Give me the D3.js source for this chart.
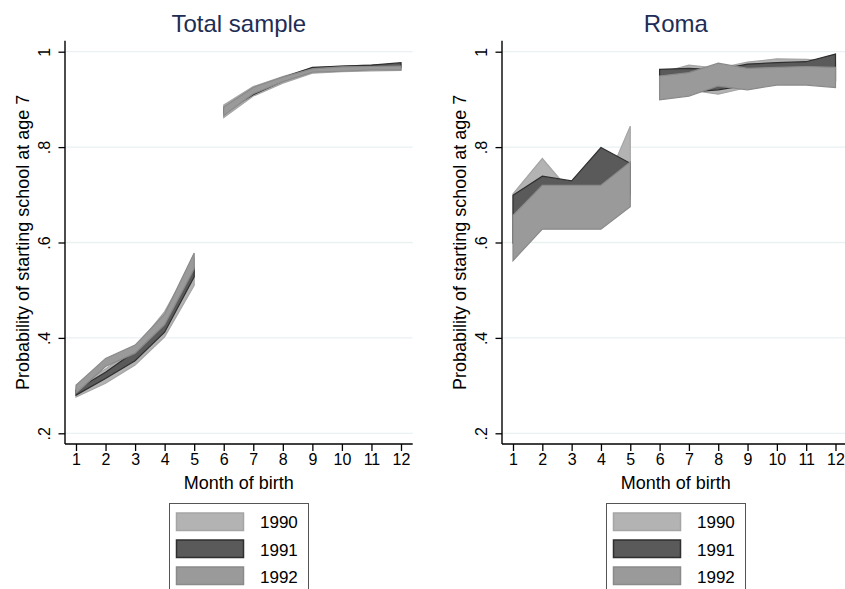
<!DOCTYPE html>
<html>
<head>
<meta charset="utf-8">
<script src="https://cdn.jsdelivr.net/npm/d3@7"></script>
<style>
  html, body { margin: 0; padding: 0; background: #fff; }
  svg { display: block; font-family: "Liberation Sans", Arial, Helvetica, sans-serif; }
</style>
</head>
<body>
<svg id="chart" width="845" height="589"></svg>
<script>
// ---------------- DATA ----------------
const months = [1, 2, 3, 4, 5, 6, 7, 8, 9, 10, 11, 12];
const yearLabels = ["1990", "1991", "1992"];
const yTickValues = [0.2, 0.4, 0.6, 0.8, 1];
const panelTitles = ["Total sample", "Roma"];
const yTitle = "Probability of starting school at age 7";
const xTitle = "Month of birth";

// Total sample: lower / upper bounds by month
const totalLo1990 = [0.276, 0.305, 0.343, 0.402, 0.510, 0.862, 0.907, 0.934, 0.955, 0.958, 0.960, 0.961];
const totalHi1990 = [0.296, 0.335, 0.378, 0.455, 0.566, 0.888, 0.927, 0.948, 0.966, 0.970, 0.972, 0.974];
const totalLo1991 = [0.280, 0.315, 0.352, 0.412, 0.528, 0.872, 0.910, 0.938, 0.960, 0.963, 0.965, 0.967];
const totalHi1991 = [0.291, 0.328, 0.372, 0.430, 0.548, 0.882, 0.918, 0.946, 0.967, 0.970, 0.972, 0.977];
const totalLo1992 = [0.284, 0.340, 0.368, 0.428, 0.545, 0.866, 0.912, 0.937, 0.957, 0.959, 0.962, 0.962];
const totalHi1992 = [0.301, 0.357, 0.385, 0.450, 0.578, 0.884, 0.925, 0.947, 0.964, 0.968, 0.969, 0.970];

// Roma: lower / upper bounds by month
const romaLo1990 = [0.600, 0.650, 0.640, 0.640, 0.690, 0.905, 0.920, 0.911, 0.925, 0.935, 0.935, 0.935];
const romaHi1990 = [0.702, 0.776, 0.704, 0.700, 0.844, 0.955, 0.972, 0.965, 0.978, 0.985, 0.984, 0.980];
const romaLo1991 = [0.600, 0.660, 0.660, 0.680, 0.700, 0.920, 0.915, 0.920, 0.930, 0.940, 0.940, 0.940];
const romaHi1991 = [0.699, 0.739, 0.729, 0.799, 0.766, 0.963, 0.965, 0.962, 0.974, 0.977, 0.979, 0.995];
const romaLo1992 = [0.562, 0.628, 0.628, 0.628, 0.675, 0.899, 0.907, 0.928, 0.920, 0.930, 0.930, 0.925];
const romaHi1992 = [0.657, 0.720, 0.720, 0.720, 0.769, 0.949, 0.956, 0.976, 0.965, 0.967, 0.969, 0.967];

// ---------------- STYLE ----------------
const fills   = ["#b3b3b3", "#5a5a5a", "#9a9a9a"];
const strokes = ["#a5a5a5", "#2f2f2f", "#8a8a8a"];
const titleColor = "#1e2d55";
const gridColor = "#e9f1f3";

const panels = [
  { title: panelTitles[0], dx: 0, xr: [76, 401], xEnd: 412.7, series: [
      { lo: totalLo1990, hi: totalHi1990 },
      { lo: totalLo1991, hi: totalHi1991 },
      { lo: totalLo1992, hi: totalHi1992 } ] },
  { title: panelTitles[1], dx: 437, xr: [76, 398.5], xEnd: 408, series: [
      { lo: romaLo1990, hi: romaHi1990 },
      { lo: romaLo1991, hi: romaHi1991 },
      { lo: romaLo1992, hi: romaHi1992 } ] }
];

const svg = d3.select("#chart");

const axisX0 = 65, axisYTop = 40.7, axisYBot = 444;
const y = d3.scaleLinear().domain([0.2, 1]).range([433.3, 51.7]);

const segments = [[0, 5], [5, 12]];

panels.forEach(p => {
  const g = svg.append("g").attr("transform", `translate(${p.dx},0)`);
  const x = d3.scaleLinear().domain([1, 12]).range(p.xr);
  const axisX1 = p.xEnd;

  // grid
  g.append("g").selectAll("line").data(yTickValues).join("line")
    .attr("x1", axisX0).attr("x2", axisX1)
    .attr("y1", d => y(d)).attr("y2", d => y(d))
    .attr("stroke", gridColor).attr("stroke-width", 1.3);

  // areas
  p.series.forEach((s, i) => {
    const rows = months.map((m, k) => ({ m, lo: s.lo[k], hi: s.hi[k] }));
    const area = d3.area().x(d => x(d.m)).y0(d => y(d.lo)).y1(d => y(d.hi));
    segments.forEach(([a, b]) => {
      g.append("path").datum(rows.slice(a, b))
        .attr("d", area)
        .attr("fill", fills[i])
        .attr("stroke", strokes[i])
        .attr("stroke-width", 1.2)
        .attr("stroke-linejoin", "miter");
    });
  });

  // y axis
  const yAxis = d3.axisLeft(y).tickValues(yTickValues).tickSize(6.5)
    .tickFormat(d => d === 1 ? "1" : d3.format(".1f")(d).replace(/^0/, ""));
  const ya = g.append("g").attr("transform", `translate(${axisX0},0)`).call(yAxis);
  ya.select(".domain").remove();
  ya.selectAll(".tick line").attr("stroke", "#000").attr("stroke-width", 1.3);
  ya.selectAll(".tick text")
    .attr("transform", "rotate(-90)")
    .attr("x", 0).attr("y", -15).attr("dy", 0)
    .attr("text-anchor", "middle")
    .attr("fill", "#000")
    .style("font-size", "16px");
  g.append("line").attr("x1", axisX0).attr("x2", axisX0)
    .attr("y1", axisYTop).attr("y2", axisYBot)
    .attr("stroke", "#000").attr("stroke-width", 1.4);

  // x axis
  const xAxis = d3.axisBottom(x).tickValues(months).tickSize(7).tickFormat(d3.format("d"));
  const xa = g.append("g").attr("transform", `translate(0,${axisYBot})`).call(xAxis);
  xa.select(".domain").remove();
  xa.selectAll(".tick line").attr("stroke", "#000").attr("stroke-width", 1.3);
  xa.selectAll(".tick text")
    .attr("y", 21).attr("dy", 0)
    .attr("fill", "#000")
    .style("font-size", "16px");
  g.append("line").attr("x1", axisX0).attr("x2", axisX1)
    .attr("y1", axisYBot).attr("y2", axisYBot)
    .attr("stroke", "#000").attr("stroke-width", 1.4);

  // titles
  const cx = (axisX0 + 412.7) / 2;
  g.append("text").attr("x", cx).attr("y", 32)
    .attr("text-anchor", "middle").attr("fill", titleColor)
    .style("font-size", "24px").text(p.title);
  g.append("text").attr("x", cx).attr("y", 489)
    .attr("text-anchor", "middle").attr("fill", "#000")
    .style("font-size", "18px").text(xTitle);
  g.append("text")
    .attr("transform", `translate(29,${(axisYTop + axisYBot) / 2}) rotate(-90)`)
    .attr("text-anchor", "middle").attr("fill", "#000")
    .style("font-size", "18px").text(yTitle);

  // legend
  const lg = g.append("g");
  lg.append("rect").attr("x", 169.5).attr("y", 503.5).attr("width", 139).attr("height", 100)
    .attr("fill", "#fff").attr("stroke", "#555").attr("stroke-width", 1);
  const rowY = [513, 540, 567];
  const baseY = [528, 555.5, 583];
  yearLabels.forEach((lab, i) => {
    lg.append("rect").attr("x", 176.5).attr("y", rowY[i]).attr("width", 67).attr("height", 17.5)
      .attr("fill", fills[i]).attr("stroke", strokes[i]).attr("stroke-width", 1.5);
    lg.append("text").attr("x", 260).attr("y", baseY[i])
      .attr("fill", "#000").style("font-size", "17px").text(lab);
  });
});
</script>
</body>
</html>
